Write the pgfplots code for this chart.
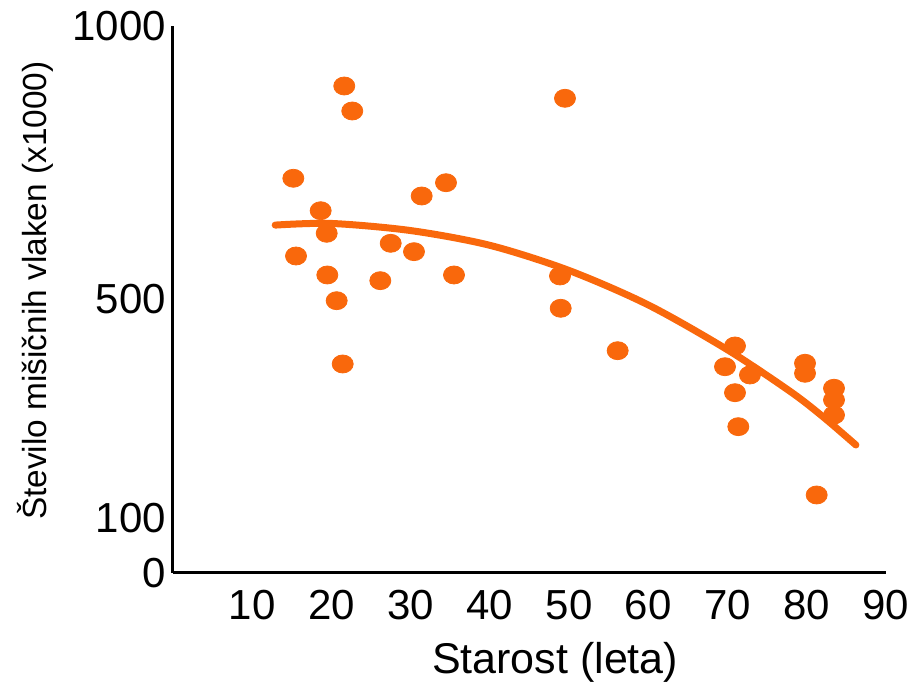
\documentclass[border=0pt]{standalone}
\usepackage{pgfplots}
\pgfplotsset{compat=1.18}
\usepackage{fontspec}
\setmainfont{Liberation Sans}
\definecolor{dotor}{RGB}{249,104,12}
\begin{document}
\begin{tikzpicture}
\begin{axis}[
  scale only axis, width=356.5pt, height=273.5pt,
  xmin=0, xmax=90, ymin=0, ymax=1000,
  axis lines=left, axis line style={-, line width=1.5pt, black},
  xtick={10,20,...,90}, ytick={0,100,500,1000},
  major tick length=0pt,
  tick label style={font=\fontsize{21}{25}\selectfont},
  /pgf/number format/assume math mode=true,
  /pgf/number format/1000 sep={},
  xticklabel style={yshift=-5pt},
  every axis x label/.style={at={(axis description cs:0.536,-0.163)}, anchor=center},
  every axis y label/.style={at={(axis description cs:-0.1935,0.516)}, anchor=center, rotate=90},
  xlabel={Starost (leta)}, ylabel={Število mišičnih vlaken (x1000)},
  xlabel style={font=\fontsize{21.5}{25}\selectfont},
  ylabel style={font=\fontsize{16.7}{20}\selectfont},
  clip=false,
]
\addplot[only marks, mark=*, mark size=4.5pt, color=dotor, mark options={xscale=1.17, fill=dotor, draw=dotor}] coordinates {
(15.19,721.6) (15.53,579.5) (21.62,890.3) (22.63,844.6) (18.64,662.3)
(19.40,621.0) (19.48,544.8) (20.66,497.8) (21.42,382.1) (26.17,534.4)
(27.48,602.7) (30.42,587.4) (31.39,689.2) (34.46,713.5) (35.47,544.8)
(49.48,867.8) (48.85,543.0) (48.94,483.9) (56.13,406.4) (70.94,415.0)
(69.68,377.1) (72.83,362.0) (70.94,329.6) (71.36,267.5) (79.78,383.4)
(79.78,365.1) (83.44,337.7) (83.44,316.3) (83.44,288.8) (81.25,142.6)
};
\addplot[color=dotor, line width=3.5pt, line cap=round, smooth, no marks] coordinates {
(12.9,636) (20,639) (30,626) (40,599) (50,553) (60,490) (70,408) (78,331) (82.1,285) (86.2,234)
};
\end{axis}
\pgfresetboundingbox
\path[use as bounding box] (-86.5pt,-57.5pt) rectangle (369.5pt,286.5pt);
\end{tikzpicture}
\end{document}
